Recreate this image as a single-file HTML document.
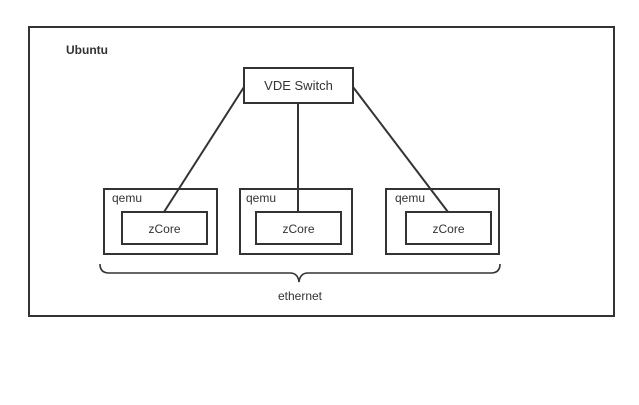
<!DOCTYPE html>
<html><head><meta charset="utf-8"><style>
html,body{margin:0;padding:0;background:#fff;width:639px;height:405px;overflow:hidden}
text{font-family:"Liberation Sans",sans-serif;fill:#333}
</style></head><body>
<svg width="639" height="405" xmlns="http://www.w3.org/2000/svg">
<g fill="none" stroke="#333" stroke-width="2">
<rect x="29" y="27" width="585" height="289"/>
<rect x="244" y="68" width="109" height="35"/>
<rect x="104" y="189" width="113" height="65"/>
<rect x="240" y="189" width="112" height="65"/>
<rect x="386" y="189" width="113" height="65"/>
<rect x="122" y="212" width="85" height="32"/>
<rect x="256" y="212" width="85" height="32"/>
<rect x="406" y="212" width="85" height="32"/>
<line x1="244" y1="87" x2="164" y2="212"/>
<line x1="298" y1="103" x2="298" y2="212"/>
<line x1="353" y1="87" x2="448" y2="212"/>
<path d="M100 264 Q100 273 109 273 L290 273 Q298 273 299 282 Q300 273 308 273 L491 273 Q500 273 500 264" stroke-width="1.6"/>
</g>
<text x="66" y="54" font-size="12" font-weight="bold">Ubuntu</text>
<text x="298.5" y="90" font-size="13" text-anchor="middle">VDE Switch</text>
<text x="112" y="202" font-size="12">qemu</text>
<text x="246" y="202" font-size="12">qemu</text>
<text x="395" y="202" font-size="12">qemu</text>
<text x="164.5" y="233" font-size="12" text-anchor="middle">zCore</text>
<text x="298.5" y="233" font-size="12" text-anchor="middle">zCore</text>
<text x="448.5" y="233" font-size="12" text-anchor="middle">zCore</text>
<text x="300" y="300" font-size="12" text-anchor="middle">ethernet</text>
</svg>
</body></html>
